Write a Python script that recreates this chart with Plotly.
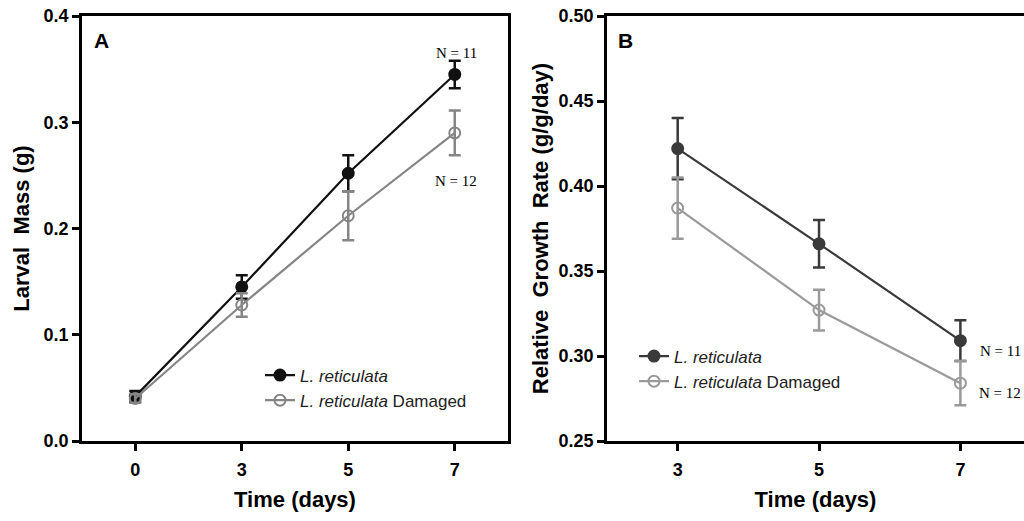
import plotly.graph_objects as go

# Panel A: larval mass (g)
days_a = ["0", "3", "5", "7"]
mass_ctrl = [0.042, 0.145, 0.252, 0.345]
mass_ctrl_err = [0.005, 0.011, 0.017, 0.013]
mass_dmg = [0.040, 0.128, 0.212, 0.290]
mass_dmg_err = [0.004, 0.011, 0.023, 0.021]

# Panel B: relative growth rate (g/g/day)
days_b = ["3", "5", "7"]
rgr_ctrl = [0.422, 0.366, 0.309]
rgr_ctrl_err = [0.018, 0.014, 0.012]
rgr_dmg = [0.387, 0.327, 0.284]
rgr_dmg_err = [0.018, 0.012, 0.013]

name_ctrl = "<i>L. reticulata</i>"
name_dmg = "<i>L. reticulata</i> Damaged"

FONT = "Arial, Liberation Sans, sans-serif"
W, H = 1024, 521


def px(x):
    return x / W


def py(y):
    return 1 - y / H


fig = go.Figure()


def add_series(x, y, err, name, color, filled, xa, ya, legend):
    fig.add_trace(go.Scatter(
        x=x, y=y, name=name, mode="lines+markers",
        xaxis=xa, yaxis=ya, legend=legend,
        line=dict(color=color, width=2.2),
        marker=dict(size=11, symbol="circle",
                    color=color if filled else "rgba(255,255,255,0)",
                    line=dict(color=color, width=2)),
        error_y=dict(type="data", array=err, color=color, thickness=2.5, width=6),
    ))


add_series(days_a, mass_ctrl, mass_ctrl_err, name_ctrl, "#111111", True, "x", "y", "legend")
add_series(days_a, mass_dmg, mass_dmg_err, name_dmg, "#858585", False, "x", "y", "legend")
add_series(days_b, rgr_ctrl, rgr_ctrl_err, name_ctrl, "#3a3a3a", True, "x2", "y2", "legend2")
add_series(days_b, rgr_dmg, rgr_dmg_err, name_dmg, "#9a9a9a", False, "x2", "y2", "legend2")

axis_common = dict(
    showgrid=False, zeroline=False, showline=True, linecolor="black", linewidth=2.8,
    ticks="outside", ticklen=7, tickwidth=2.5, tickcolor="black", automargin=False,
    tickfont=dict(family=FONT, size=18, color="black", weight="bold"),
)
title_font = dict(family=FONT, size=22, color="black", weight="bold")
ydom = [py(441), py(16)]

fig.update_layout(
    width=W, height=H,
    margin=dict(l=0, r=0, t=0, b=0),
    paper_bgcolor="white", plot_bgcolor="white",
    xaxis=dict(axis_common, domain=[px(82), px(508)], type="category", range=[-0.5, 3.5],
               mirror=True, ticklabelstandoff=3,
               title=dict(text="Time (days)", font=title_font, standoff=14)),
    yaxis=dict(axis_common, domain=ydom, range=[0, 0.4], dtick=0.1,
               tickformat=".1f", mirror=True, anchor="x",
               title=dict(text="Larval&nbsp; Mass (g)", font=title_font, standoff=8)),
    xaxis2=dict(axis_common, domain=[px(607), 1.0], type="category", range=[-0.5, 2.45],
                mirror=True, anchor="y2", ticklabelstandoff=3,
                title=dict(text="Time (days)", font=title_font, standoff=14)),
    yaxis2=dict(axis_common, domain=ydom, range=[0.25, 0.5], dtick=0.05,
                tickformat=".2f", anchor="x2",
                title=dict(text="Relative&nbsp; Growth&nbsp; Rate (g/g/day)",
                           font=title_font, standoff=4)),
    legend=dict(x=px(260), y=py(388), xanchor="left", yanchor="middle",
                bgcolor="rgba(0,0,0,0)",
                font=dict(family=FONT, size=17, color="#222222"), tracegroupgap=0),
    legend2=dict(x=px(634), y=py(369), xanchor="left", yanchor="middle",
                 bgcolor="rgba(0,0,0,0)",
                 font=dict(family=FONT, size=17, color="#222222"), tracegroupgap=0),
    showlegend=True,
)

serif = dict(family="Liberation Serif, Times New Roman, serif", size=15, color="black")
for x, y, txt in [(456, 53, "N = 11"), (456, 181, "N = 12"),
                  (1000, 351, "N = 11"), (1000, 393, "N = 12")]:
    fig.add_annotation(x=px(x), y=py(y), xref="paper", yref="paper",
                       xanchor="center", yanchor="middle",
                       text=txt, showarrow=False, font=serif)

bold = dict(family=FONT, size=21, color="black", weight="bold")
for x, txt in [(92, "A"), (616, "B")]:
    fig.add_annotation(x=px(x), y=py(40), xref="paper", yref="paper",
                       xanchor="left", yanchor="middle",
                       text=txt, showarrow=False, font=bold)

# drop the default page margin so the figure sits at the window origin
fig.write_html("out.html", config={"displayModeBar": False},
               post_script="document.body.style.margin='0';")
